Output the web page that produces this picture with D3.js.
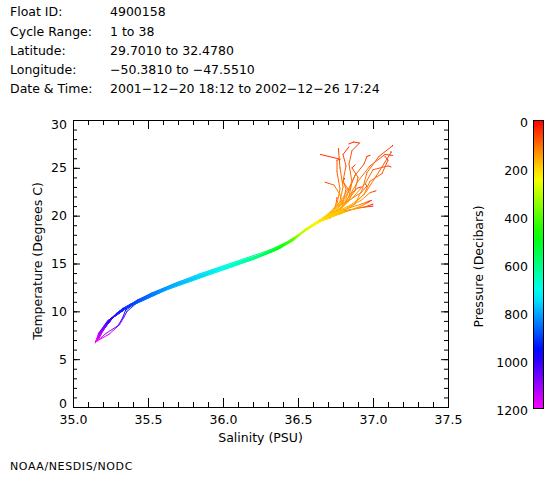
<!DOCTYPE html>
<html><head><meta charset="utf-8">
<script src="https://cdn.jsdelivr.net/npm/d3@7"></script>
<style>
html,body{margin:0;padding:0;background:#fff;}
svg{display:block;}
text{font-family:"DejaVu Sans",sans-serif;font-size:12.5px;fill:#000;}
</style></head><body>
<svg id="chart" width="560" height="480"></svg>
<script>
// ---- header text ----
const headerLabels = ["Float ID:", "Cycle Range:", "Latitude:", "Longitude:", "Date & Time:"];
const headerValues = ["4900158", "1 to 38", "29.7010 to 32.4780", "\u221250.3810 to \u221247.5510", "2001\u221212\u221220 18:12 to 2002\u221212\u221226 17:24"];
const creditText = "NOAA/NESDIS/NODC";

// ---- axes ----
const salinityTicks = [35.0, 35.5, 36.0, 36.5, 37.0, 37.5];
const temperatureTicks = [0, 5, 10, 15, 20, 25, 30];
const pressureTicks = [0, 200, 400, 600, 800, 1000, 1200];
const xTitle = "Salinity (PSU)";
const yTitle = "Temperature (Degrees C)";
const cTitle = "Pressure (Decibars)";

// ---- profiles: [pressure dbar, salinity PSU, temperature C], deep -> surface ----
const profile01 = [[1200,35.16,6.9],[1100,35.19,8.0],[1000,35.25,9.2],[900,35.38,10.7],[800,35.64,12.5],[700,36.00,14.5],[600,36.23,15.7],[500,36.36,16.5],[400,36.46,17.4],[300,36.52,18.2],[250,36.56,18.7],[230,36.61,19.2],[190,36.68,19.9],[150,36.80,20.6],[120,36.92,21.2],[90,36.97,21.5],[15,36.99,21.6]];
const profile02 = [[1180,35.17,7.1],[1100,35.20,8.1],[1000,35.27,9.4],[900,35.40,10.8],[800,35.66,12.6],[700,36.01,14.5],[600,36.24,15.8],[500,36.37,16.6],[400,36.46,17.4],[300,36.53,18.3],[250,36.55,18.6],[230,36.60,19.1],[190,36.65,19.6],[160,36.73,20.1],[130,36.80,20.5],[80,36.84,20.6],[15,36.85,20.6]];
const profile03 = [[1150,35.18,7.5],[1050,35.22,8.6],[950,35.31,10.0],[850,35.50,11.6],[750,35.82,13.6],[650,36.12,15.2],[550,36.30,16.1],[450,36.41,17.0],[350,36.49,17.8],[250,36.55,18.6],[230,36.58,18.9],[200,36.62,19.2],[160,36.66,19.5],[110,36.70,19.7],[15,36.72,19.8]];
const profile04 = [[1200,35.15,6.8],[1100,35.18,7.8],[1000,35.24,9.1],[900,35.36,10.5],[800,35.62,12.4],[700,35.98,14.4],[600,36.22,15.6],[500,36.35,16.4],[400,36.45,17.3],[300,36.51,18.1],[250,36.54,18.5],[230,36.57,18.8],[180,36.60,19.0],[110,36.62,19.2],[15,36.63,19.3]];
const profile05 = [[1200,35.16,6.9],[1150,35.24,7.6],[1100,35.31,8.6],[1050,35.34,9.4],[1000,35.36,10.0],[900,35.42,10.8],[800,35.66,12.5],[700,36.01,14.4],[600,36.24,15.7],[500,36.37,16.5],[400,36.47,17.4],[300,36.53,18.2],[250,36.56,18.7],[230,36.60,19.0],[190,36.66,19.6],[150,36.72,20.2],[110,36.75,21.0],[70,36.76,21.8],[10,36.76,21.9]];
const profile06 = [[1170,35.17,7.3],[1100,35.21,8.3],[1000,35.28,9.6],[900,35.42,11.0],[800,35.68,12.8],[700,36.03,14.7],[600,36.25,15.9],[500,36.38,16.7],[400,36.47,17.5],[300,36.53,18.3],[250,36.56,18.7],[230,36.62,19.2],[200,36.68,19.7],[160,36.74,20.3],[130,36.80,21.4],[100,36.82,22.8],[75,36.80,23.6],[15,36.81,23.9]];
const profile07 = [[1100,35.20,8.0],[1000,35.26,9.3],[900,35.39,10.7],[800,35.64,12.5],[700,35.99,14.4],[600,36.22,15.7],[500,36.36,16.5],[400,36.45,17.4],[300,36.52,18.2],[230,36.61,19.1],[190,36.73,20.2],[140,36.82,21.3],[110,36.88,22.6],[90,36.90,24.0],[70,36.86,25.0],[15,36.88,25.3]];
const profile08 = [[1200,35.16,6.9],[1100,35.19,8.0],[1000,35.25,9.2],[900,35.38,10.7],[800,35.64,12.5],[700,36.00,14.5],[600,36.23,15.7],[500,36.36,16.5],[400,36.46,17.4],[300,36.52,18.2],[230,36.63,19.3],[190,36.74,20.1],[150,36.86,21.0],[120,36.95,22.4],[95,37.02,24.1],[75,37.08,25.6],[55,37.12,26.6],[10,37.12,26.7]];
const profile09 = [[1180,35.17,7.1],[1100,35.20,8.1],[1000,35.27,9.4],[900,35.40,10.8],[800,35.66,12.6],[700,36.01,14.5],[600,36.24,15.8],[500,36.37,16.6],[400,36.46,17.4],[300,36.53,18.3],[230,36.62,19.2],[190,36.76,20.2],[150,36.88,21.2],[120,36.93,22.8],[95,36.96,24.5],[75,37.04,26.2],[55,37.13,27.3],[10,37.13,27.35]];
const profile10 = [[1190,35.17,7.0],[1120,35.22,7.7],[1060,35.30,8.5],[1020,35.33,9.3],[960,35.35,10.1],[900,35.41,10.8],[800,35.65,12.6],[700,36.00,14.5],[600,36.23,15.7],[500,36.36,16.6],[400,36.46,17.5],[300,36.52,18.2],[230,36.60,19.1],[180,36.74,20.4],[140,36.82,21.8],[110,36.86,23.5],[90,36.84,25.4],[70,36.86,26.8],[55,36.91,27.6],[45,36.87,27.7],[10,36.84,27.5]];
const profile11 = [[1150,35.18,7.5],[1050,35.22,8.6],[950,35.31,10.0],[850,35.50,11.6],[750,35.82,13.6],[650,36.12,15.2],[550,36.30,16.1],[450,36.41,17.0],[350,36.49,17.8],[230,36.61,19.0],[180,36.72,20.0],[140,36.78,21.5],[110,36.80,23.0],[85,36.78,25.0],[60,36.77,26.9],[10,36.77,27.0]];
const profile12 = [[1200,35.15,6.8],[1100,35.18,7.8],[1000,35.24,9.1],[900,35.36,10.5],[800,35.62,12.4],[700,35.98,14.4],[600,36.22,15.6],[500,36.35,16.4],[400,36.45,17.3],[300,36.51,18.1],[230,36.60,19.0],[180,36.70,20.0],[140,36.76,21.2],[110,36.78,22.8],[90,36.76,24.6],[75,36.76,25.8],[60,36.78,25.9],[30,36.65,26.4]];
const profile13 = [[1170,35.17,7.3],[1100,35.21,8.3],[1000,35.28,9.6],[900,35.42,11.0],[800,35.68,12.8],[700,36.03,14.7],[600,36.25,15.9],[500,36.38,16.7],[400,36.47,17.5],[300,36.53,18.3],[230,36.62,19.2],[180,36.76,20.5],[140,36.86,21.8],[110,36.95,23.4],[90,37.00,24.8],[70,37.10,25.2],[30,37.12,25.1]];
const profile14 = [[1100,35.20,8.0],[1000,35.26,9.3],[900,35.39,10.7],[800,35.64,12.5],[700,35.99,14.4],[600,36.22,15.7],[500,36.36,16.5],[400,36.45,17.4],[300,36.52,18.2],[230,36.63,19.3],[180,36.80,20.6],[140,36.92,21.6],[105,36.98,22.4],[20,37.02,22.6]];
const profile15 = [[1200,35.16,6.9],[1100,35.19,8.0],[1000,35.25,9.2],[900,35.38,10.7],[800,35.64,12.5],[700,36.00,14.5],[600,36.23,15.7],[500,36.36,16.5],[400,36.46,17.4],[300,36.52,18.2],[230,36.62,19.2],[180,36.80,20.3],[130,36.92,21.0],[20,36.98,21.5]];
const profile16 = [[1180,35.17,7.1],[1100,35.20,8.1],[1000,35.27,9.4],[900,35.40,10.8],[800,35.66,12.6],[700,36.01,14.5],[600,36.24,15.8],[500,36.37,16.6],[400,36.46,17.4],[300,36.53,18.3],[230,36.60,19.1],[190,36.72,20.0],[150,36.80,21.0],[125,36.78,22.2],[100,36.74,23.2],[60,36.68,23.5]];
const profile17 = [[1150,35.18,7.5],[1050,35.22,8.6],[950,35.31,10.0],[850,35.50,11.6],[750,35.82,13.6],[650,36.12,15.2],[550,36.30,16.1],[450,36.41,17.0],[350,36.49,17.8],[230,36.62,19.2],[180,36.76,20.4],[140,36.84,22.0],[110,36.90,23.6],[90,36.98,25.2],[70,37.08,26.4],[30,37.13,26.3]];
const profile18 = [[1200,35.15,6.8],[1100,35.18,7.8],[1000,35.24,9.1],[900,35.36,10.5],[800,35.62,12.4],[700,35.98,14.4],[600,36.22,15.6],[500,36.35,16.4],[400,36.45,17.3],[300,36.51,18.1],[230,36.61,19.1],[180,36.74,20.1],[145,36.80,21.0],[115,36.84,22.0],[90,36.86,23.5],[40,36.88,24.2]];
const profile19 = [[1170,35.17,7.3],[1100,35.21,8.3],[1000,35.28,9.6],[900,35.42,11.0],[800,35.68,12.8],[700,36.03,14.7],[600,36.25,15.9],[500,36.38,16.7],[400,36.47,17.5],[300,36.53,18.3],[230,36.61,19.1],[190,36.74,20.3],[140,36.80,21.6],[115,36.84,22.6],[100,36.80,23.6],[80,36.82,25.2],[65,36.80,26.4],[30,36.84,27.2]];
const profile20 = [[1100,35.20,8.0],[1000,35.26,9.3],[900,35.39,10.7],[800,35.64,12.5],[700,35.99,14.4],[600,36.22,15.7],[500,36.36,16.5],[400,36.45,17.4],[300,36.52,18.2],[230,36.62,19.2],[190,36.76,20.4],[150,36.86,21.2],[125,36.94,22.2],[100,36.98,23.6],[85,37.06,24.4],[65,37.10,25.8],[30,37.08,26.2]];
const profile21 = [[1200,35.16,6.9],[1100,35.19,8.0],[1000,35.25,9.2],[900,35.38,10.7],[800,35.64,12.5],[700,36.00,14.5],[600,36.23,15.7],[500,36.36,16.5],[400,36.46,17.4],[300,36.52,18.2],[230,36.62,19.2],[180,36.78,20.3],[130,36.90,20.8],[20,37.00,21.0]];
const profile22 = [[1180,35.17,7.1],[1100,35.20,8.1],[1000,35.27,9.4],[900,35.40,10.8],[800,35.66,12.6],[700,36.01,14.5],[600,36.24,15.8],[500,36.37,16.6],[400,36.46,17.4],[300,36.53,18.3],[230,36.61,19.1],[190,36.70,19.8],[150,36.85,20.6],[110,36.94,20.9],[20,37.00,21.2]];
const profile23 = [[1160,35.18,7.6],[1080,35.22,8.6],[1000,35.29,9.8],[900,35.43,11.2],[800,35.69,13.0],[700,36.04,14.9],[600,36.26,16.0],[500,36.39,16.9],[400,36.48,17.7],[300,36.54,18.5],[250,36.60,19.1],[200,36.70,19.9],[160,36.78,20.6],[130,36.84,21.6],[105,36.86,22.4],[70,36.90,22.9],[20,36.92,23.0]];
const profile24 = [[1200,35.15,6.7],[1100,35.17,7.7],[1000,35.23,9.0],[900,35.35,10.3],[800,35.60,12.1],[700,35.96,14.1],[600,36.20,15.4],[500,36.34,16.3],[400,36.44,17.2],[300,36.51,18.0],[230,36.60,19.0],[180,36.70,20.2],[140,36.76,21.0],[115,36.84,21.6],[95,36.92,22.4],[70,36.96,23.1],[20,36.95,23.3]];
const profile25 = [[1190,35.17,7.2],[1100,35.21,8.2],[1000,35.27,9.5],[900,35.41,10.9],[800,35.67,12.7],[700,36.02,14.6],[600,36.25,15.8],[500,36.38,16.6],[400,36.47,17.5],[300,36.54,18.4],[230,36.63,19.3],[180,36.72,20.3],[140,36.78,21.4],[115,36.84,22.9],[95,36.88,24.2],[75,36.94,25.4],[60,36.96,26.2],[20,36.98,26.3]];
const profile26 = [[1150,35.19,7.8],[1050,35.24,9.0],[950,35.33,10.3],[850,35.52,11.9],[750,35.84,13.9],[650,36.14,15.5],[550,36.31,16.4],[450,36.42,17.2],[350,36.50,18.0],[250,36.57,18.8],[210,36.64,19.5],[160,36.72,20.0],[110,36.78,20.2],[15,36.79,20.3]];

const profiles = [profile01, profile02, profile26, profile03, profile04, profile05, profile23, profile06, profile24, profile07, profile18,
  profile08, profile25, profile09, profile10, profile19, profile11, profile12, profile17, profile20, profile13, profile14,
  profile15, profile16, profile22, profile21];

// ---- drawing ----
const svg = d3.select("#chart");
const x = d3.scaleLinear().domain([35, 37.5]).range([73, 448]);
const y = d3.scaleLinear().domain([0, 30]).range([407, 120]);
const hue = d3.scaleLinear().domain([0, 1200]).range([0, 300]);
const color = p => d3.hsl(hue(Math.max(0, Math.min(1200, p))), 1, 0.5).formatHex();

// header
const hdr = svg.append("g");
const baselines = [16, 35.5, 55, 74.3, 93];
hdr.selectAll("text.lab").data(headerLabels).join("text").attr("class","lab")
  .attr("x", 10).attr("y", (d,i) => baselines[i]).text(d => d);
hdr.selectAll("text.val").data(headerValues).join("text").attr("class","val")
  .attr("x", 110).attr("y", (d,i) => baselines[i]).text(d => d);

svg.append("text").attr("x", 10).attr("y", 470)
  .style("font-size","11px").style("letter-spacing","0.6px").text(creditText);

// data lines
const defs = svg.append("defs");
const plot = svg.append("g");
profiles.forEach((prof, i) => {
  for (let k = 0; k < prof.length - 1; k++) {
    const a = prof[k], b = prof[k+1];
    const id = "sg" + i + "_" + k;
    const lg = defs.append("linearGradient").attr("id", id).attr("gradientUnits", "userSpaceOnUse")
      .attr("x1", x(a[1])).attr("y1", y(a[2])).attr("x2", x(b[1])).attr("y2", y(b[2]));
    lg.append("stop").attr("offset", 0).attr("stop-color", color(a[0]));
    lg.append("stop").attr("offset", 1).attr("stop-color", color(b[0]));
    plot.append("line")
      .attr("x1", x(a[1])).attr("y1", y(a[2])).attr("x2", x(b[1])).attr("y2", y(b[2]))
      .attr("stroke", "url(#" + id + ")").attr("stroke-width", 1).attr("stroke-linecap", "round");
  }
});

// axes
const xMinor = d3.range(350, 376, 1).map(v => v / 10);
const yMinor = d3.range(0, 31, 1);
function clean(sel) {
  sel.select(".domain").remove();
  sel.attr("font-family", null).attr("font-size", null);
  sel.selectAll("line").attr("stroke", "#000");
}
svg.append("g").attr("transform", "translate(0,407)")
  .call(d3.axisBottom(x).tickValues(xMinor).tickSizeInner(-5).tickSizeOuter(0).tickFormat("")).call(clean);
svg.append("g").attr("transform", "translate(0,407)")
  .call(d3.axisBottom(x).tickValues(salinityTicks).tickSizeInner(-9).tickSizeOuter(0).tickPadding(8).tickFormat(d3.format(".1f"))).call(clean);
svg.append("g").attr("transform", "translate(0,120)")
  .call(d3.axisTop(x).tickValues(xMinor).tickSizeInner(-5).tickSizeOuter(0).tickFormat("")).call(clean);
svg.append("g").attr("transform", "translate(0,120)")
  .call(d3.axisTop(x).tickValues(salinityTicks).tickSizeInner(-9).tickSizeOuter(0).tickFormat("")).call(clean);
svg.append("g").attr("transform", "translate(73,0)")
  .call(d3.axisLeft(y).tickValues(yMinor).tickSizeInner(-4).tickSizeOuter(0).tickFormat("")).call(clean);
const yAx = svg.append("g").attr("transform", "translate(73,0)")
  .call(d3.axisLeft(y).tickValues(temperatureTicks).tickSizeInner(-7).tickSizeOuter(0).tickPadding(6).tickFormat(d3.format("d"))).call(clean);
yAx.selectAll(".tick text").attr("transform", d => d === 30 ? "translate(0,4)" : (d === 0 ? "translate(0,-3.5)" : null));
svg.append("g").attr("transform", "translate(448,0)")
  .call(d3.axisRight(y).tickValues(yMinor).tickSizeInner(-4).tickSizeOuter(0).tickFormat("")).call(clean);
svg.append("g").attr("transform", "translate(448,0)")
  .call(d3.axisRight(y).tickValues(temperatureTicks).tickSizeInner(-7).tickSizeOuter(0).tickFormat("")).call(clean);

svg.append("rect").attr("x", 73.5).attr("y", 120.5).attr("width", 375).attr("height", 287)
  .attr("fill", "none").attr("stroke", "#000").attr("stroke-width", 1);

svg.append("text").attr("x", 260.5).attr("y", 442).attr("text-anchor", "middle").text(xTitle);
svg.append("text").attr("transform", "translate(42,261) rotate(-90)").attr("text-anchor", "middle").text(yTitle);

// colour bar
const cy = d3.scaleLinear().domain([0, 1200]).range([120.5, 408.5]);
const cg = defs.append("linearGradient").attr("id", "cbar").attr("x1", 0).attr("y1", 0).attr("x2", 0).attr("y2", 1);
d3.range(0, 1201, 50).forEach(p => cg.append("stop").attr("offset", p / 1200).attr("stop-color", color(p)));
svg.append("rect").attr("x", 533.5).attr("y", cy(0)).attr("width", 10).attr("height", cy(1200) - cy(0))
  .attr("fill", "url(#cbar)").attr("stroke", "#000").attr("stroke-width", 1);
svg.append("g").selectAll("text").data(pressureTicks).join("text")
  .attr("x", 528).attr("y", d => cy(d) + 6.5).attr("text-anchor", "end").text(d => d);
svg.append("text").attr("transform", "translate(483,266.5) rotate(-90)").attr("text-anchor", "middle").text(cTitle);
</script>
</body></html>
